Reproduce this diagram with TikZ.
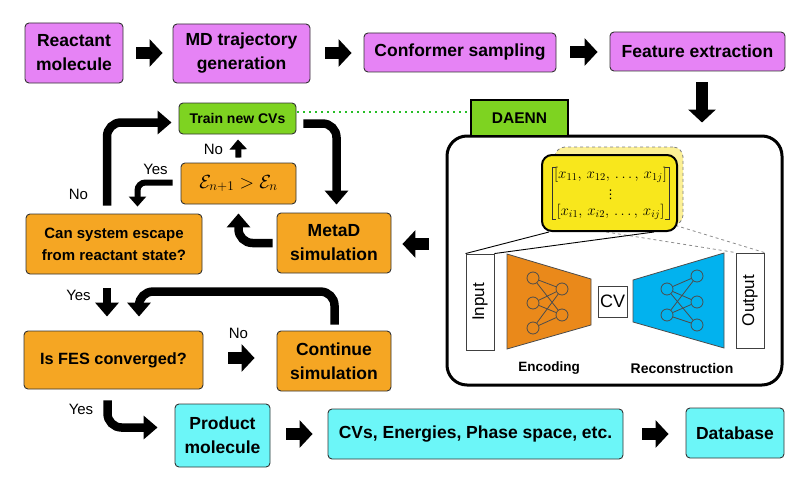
\documentclass[tikz,border=0pt]{standalone}
\usepackage{fix-cm}
\usepackage{amsmath}
\usepackage{fontspec}
\setmainfont{Liberation Sans}
\newfontfamily\symfont{DejaVu Sans}
\usepackage{tikz}
\usetikzlibrary{positioning, arrows.meta}

\definecolor{violetbox}{RGB}{230,131,245}
\definecolor{orangebox}{RGB}{245,166,35}
\definecolor{greenbox}{RGB}{126,211,33}
\definecolor{cyanbox}{RGB}{108,246,248}
\definecolor{yellowbox}{RGB}{248,231,28}
\definecolor{shadowbox}{RGB}{252,240,150}
\definecolor{encfill}{RGB}{234,137,26}
\definecolor{decfill}{RGB}{2,178,238}
\definecolor{dotgreen}{RGB}{40,190,40}

\begin{document}
\begin{tikzpicture}[x=1pt, y=-1pt,
    box/.style={draw=black!80, line width=0.9pt, rounded corners=4pt, align=center, inner sep=0pt, font=\bfseries\fontsize{17.5}{24}\selectfont},
    prepbox/.style={box, fill=violetbox},
    simbox/.style={box, fill=orangebox},
    cvbox/.style={box, fill=greenbox},
    outbox/.style={box, fill=cyanbox},
    plainbox/.style={draw=black!75, line width=0.9pt, fill=white, inner sep=0pt},
    lbl/.style={inner sep=0pt, font=\fontsize{15}{18}\selectfont},
    rowtext/.style={inner sep=0pt, font=\fontsize{15}{17}\selectfont},
    neuron/.style={circle, draw=black!70, line width=0.8pt, minimum size=12pt, inner sep=0pt},
    netline/.style={draw=black!70, line width=0.8pt},
    bracket/.style={draw=black!80, line width=0.7pt},
    blockarrow/.style={line width=12pt, -{Triangle[width=27pt,length=13pt]}},
    looparrow/.style={line width=8.5pt, rounded corners=14pt, -{Triangle[width=23pt,length=14pt]}},
    smallarrow/.style={line width=6pt, rounded corners=8pt, -{Triangle[width=17pt,length=10pt]}}]

    \useasboundingbox (0,0) rectangle (811,487);

    % Preparation module
    \node (reactant) [prepbox, minimum width=98pt, minimum height=60pt] at (74,53) {Reactant\\molecule};
    \node (mdtraj) [prepbox, minimum width=137pt, minimum height=59pt] at (241.5,53.5) {MD trajectory\\generation};
    \node (conformer) [prepbox, minimum width=192pt, minimum height=39pt] at (460,52.5) {Conformer sampling};
    \node (feature) [prepbox, minimum width=175pt, minimum height=39pt] at (697.5,51.5) {Feature extraction};

    % Sampling loop
    \node (train) [cvbox, minimum width=117pt, minimum height=31pt, font=\bfseries\fontsize{14}{17}\selectfont] at (237.5,118.5) {Train new CVs};
    \node (epsilon) [simbox, minimum width=115pt, minimum height=41pt, font=\fontsize{19}{22}\selectfont] at (238.5,183.5) {$\mathcal{E}_{n+1} > \mathcal{E}_n$};
    \node (escape) [simbox, minimum width=176pt, minimum height=60pt, font=\bfseries\fontsize{15}{22}\selectfont] at (114,244) {Can system escape\\from reactant state?};
    \node (metad) [simbox, minimum width=114pt, minimum height=60pt] at (334,243) {MetaD\\simulation};
    \node (fes) [simbox, minimum width=179pt, minimum height=58pt, font=\bfseries\fontsize{16.3}{20}\selectfont] at (113.5,360) {Is FES converged?};
    \node (continue) [simbox, minimum width=114pt, minimum height=60pt] at (334,361) {Continue\\simulation};

    % Results module
    \node (product) [outbox, minimum width=95pt, minimum height=63pt] at (222.5,435.5) {Product\\molecule};
    \node (cvs) [outbox, minimum width=295pt, minimum height=50pt] at (475.5,434) {CVs, Energies, Phase space, etc.};
    \node (database) [outbox, minimum width=98pt, minimum height=50pt] at (735,433) {Database};

    % DAENN module
    \node (daennbox) [draw, line width=3pt, rounded corners=20pt, minimum width=335pt, minimum height=249pt] at (614.5,260.5) {};
    \node (daenn) [draw, line width=2pt, fill=greenbox, minimum width=97pt, minimum height=36pt, font=\bfseries\fontsize{15.5}{18}\selectfont] at (519.5,118) {DAENN};
    \node (input) [plainbox, minimum width=28pt, minimum height=96pt] at (480,302) {};
    \node [rotate=90, font=\fontsize{17}{20}\selectfont] at (input.center) {Input};
    \node (output) [plainbox, minimum width=28pt, minimum height=95pt] at (750,300.5) {};
    \node [rotate=90, font=\fontsize{17}{20}\selectfont] at (output.center) {Output};
    \node (cv) [plainbox, minimum width=29pt, minimum height=31pt, font=\fontsize{18}{20}\selectfont] at (612.5,301.5) {CV};

    \filldraw[fill=encfill, draw=black!70, line width=0.8pt] (507,254) -- (591,279) -- (591,325) -- (507,349) -- cycle;
    \filldraw[fill=decfill, draw=black!70, line width=0.8pt] (633,280) -- (724,253) -- (724,348) -- (633,322) -- cycle;
    \foreach \i/\y in {1/278,2/303,3/328} \node (encl\i) [neuron] at (533,\y) {};
    \foreach \j/\y in {1/289,2/315} \node (encr\j) [neuron] at (562,\y) {};
    \foreach \i in {1,2,3} \foreach \j in {1,2} \draw[netline] (encl\i) -- (encr\j);
    \foreach \i/\y in {1/289,2/315} \node (decl\i) [neuron] at (667,\y) {};
    \foreach \j/\y in {1/276,2/302,3/325} \node (decr\j) [neuron] at (697,\y) {};
    \foreach \i in {1,2} \foreach \j in {1,2,3} \draw[netline] (decl\i) -- (decr\j);
    \node (enclabel) [font=\bfseries\fontsize{13.5}{16}\selectfont] at (549,368) {Encoding};
    \node (declabel) [font=\bfseries\fontsize{14}{16}\selectfont] at (682,368) {Reconstruction};

    % Feature matrix
    \node (shadow) [fill=shadowbox, draw=black!50, dashed, line width=0.8pt, rounded corners=10pt, minimum width=128pt, minimum height=78pt] at (619,186) {};
    \draw[black!45, dashed, line width=0.8pt] ([shift={(10,0)}]shadow.south west) -- (output.north west);
    \draw[black!45, dashed, line width=0.8pt] ([shift={(-8,0)}]shadow.south east) -- (output.north east);
    \node (matrix) [fill=yellowbox, draw=black, line width=2pt, rounded corners=10pt, minimum width=135pt, minimum height=76pt] at (609.5,193) {};
    \node (row1) [rowtext] at (610.5,175) {$[x_{11},\, x_{12},\, \ldots,\, x_{1j}]$};
    \node (rowdots) [inner sep=0pt, font=\symfont\fontsize{12}{14}\selectfont] at (610.5,195) {⋮};
    \node (row2) [rowtext] at (610.5,212) {$[x_{i1},\, x_{i2},\, \ldots,\, x_{ij}]$};
    \draw[bracket] ([shift={(15,13)}]matrix.north west) -- ++(-4,0) -- ++(0,52) -- ++(4,0);
    \draw[bracket] ([shift={(-13,13)}]matrix.north east) -- ++(4,0) -- ++(0,52) -- ++(-4,0);
    \draw[line width=0.9pt] ([shift={(8,0)}]matrix.south west) -- (input.north west);
    \draw[line width=0.9pt] ([shift={(-24,0)}]matrix.south east) -- (input.north east);

    % Flow arrows
    \draw[blockarrow] ([shift={(13,0)}]reactant.east) -- ([shift={(-10,-0.5)}]mdtraj.west);
    \draw[blockarrow] ([shift={(15,-0.5)}]mdtraj.east) -- ([shift={(-12,0.5)}]conformer.west);
    \draw[blockarrow] ([shift={(14,-0.5)}]conformer.east) -- ([shift={(-12,0.5)}]feature.west);
    \draw[blockarrow] ([shift={(4.5,11)}]feature.south) -- ([shift={(87.5,-12)}]daennbox.north);
    \draw[blockarrow] ([shift={(-17,-16.5)}]daennbox.west) -- ([shift={(11,1)}]metad.east);
    \draw[dotgreen, line width=2pt, dash pattern=on 2pt off 4pt] ([shift={(1,-6.5)}]train.east) -- ([shift={(0,-6)}]daenn.west);
    \draw[looparrow] ([shift={(7,5)}]train.east) -| ([shift={(2.5,-8)}]metad.north);
    \draw[looparrow] ([shift={(-4,0)}]metad.west) -| ([shift={(0,9)}]epsilon.south);
    \draw[smallarrow] ([shift={(0,-5)}]epsilon.north) -- ([shift={(0.5,5)}]train.south);
    \draw[smallarrow] ([shift={(-8,-1)}]epsilon.west) -| ([shift={(23.5,-7)}]escape.north);
    \draw[looparrow] ([shift={(-7,-8)}]escape.north) |- ([shift={(-7,4)}]train.west);
    \draw[looparrow] ([shift={(-7,14)}]escape.south) -- ([shift={(-6.5,-14)}]fes.north);
    \draw[looparrow] ([shift={(0.5,-6)}]continue.north) -- ++(0,-33) -| ([shift={(25.5,-14)}]fes.north);
    \draw[blockarrow] ([shift={(25,-2)}]fes.east) -- ([shift={(-22,-3)}]continue.west);
    \draw[looparrow] ([shift={(-6,11)}]fes.south) |- ([shift={(-17,-8)}]product.west);
    \draw[blockarrow] ([shift={(16,-1.5)}]product.east) -- ([shift={(-15,0)}]cvs.west);
    \draw[blockarrow] ([shift={(19,0)}]cvs.east) -- ([shift={(-17,1)}]database.west);

    % Yes / No labels
    \node (notrain) [lbl] at (213.5,149) {No};
    \node (yesescape) [lbl] at (155.5,169) {Yes};
    \node (noescape) [lbl] at (78.5,194) {No};
    \node (yesfes) [lbl] at (78.5,295.5) {Yes};
    \node (nofes) [lbl] at (238.5,333.5) {No};
    \node (yesproduct) [lbl] at (81,409.5) {Yes};
\end{tikzpicture}
\end{document}
